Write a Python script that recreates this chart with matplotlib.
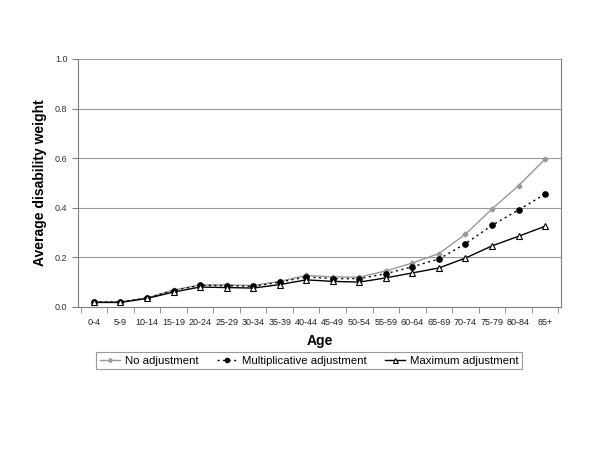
import matplotlib
matplotlib.use("Agg")
import matplotlib.pyplot as plt

plt.rcParams['font.family'] = ['Liberation Sans', 'DejaVu Sans']

ages = ["0-4", "5-9", "10-14", "15-19", "20-24", "25-29", "30-34", "35-39", "40-44",
        "45-49", "50-54", "55-59", "60-64", "65-69", "70-74", "75-79", "80-84", "85+"]
no_adj = [0.02, 0.02, 0.036, 0.068, 0.089, 0.089, 0.086, 0.103, 0.127,
          0.121, 0.120, 0.145, 0.177, 0.215, 0.293, 0.395, 0.489, 0.596]
mult_adj = [0.02, 0.02, 0.036, 0.066, 0.087, 0.086, 0.083, 0.100, 0.121,
            0.114, 0.114, 0.134, 0.162, 0.193, 0.255, 0.329, 0.391, 0.455]
max_adj = [0.018, 0.018, 0.034, 0.060, 0.080, 0.078, 0.076, 0.090, 0.109,
           0.103, 0.100, 0.117, 0.137, 0.157, 0.197, 0.246, 0.285, 0.325]

fig = plt.figure(figsize=(6, 4.5), dpi=100)
ax = fig.add_axes([0.13, 0.318, 0.805, 0.551])

x = list(range(len(ages)))
ax.plot(x, no_adj, color='#999999', lw=1.0, marker='D', ms=2.5, mfc='#999999', mec='#999999',
        label='No adjustment')
ax.plot(x, mult_adj, color='black', lw=1.0, ls=(0, (1.5, 2.5)), marker='o', ms=3.8, mfc='black',
        mec='black', label='Multiplicative adjustment')
ax.plot(x, max_adj, color='black', lw=1.0, marker='^', ms=4.5, mfc='white', mec='black',
        mew=0.8, label='Maximum adjustment')

ax.set_xlim(-0.6, len(ages) - 0.4)
ax.set_ylim(0, 1.0)
ax.set_yticks([0, 0.2, 0.4, 0.6, 0.8, 1.0])
ax.set_yticklabels(['0.0', '0.2', '0.4', '0.6', '0.8', '1.0'])
ax.set_xticks(x)
ax.set_xticklabels(ages)
ax.set_xticks([i - 0.5 for i in range(len(ages) + 1)], minor=True)
ax.tick_params(axis='x', which='major', length=0, labelsize=6.5, pad=8, labelcolor='#222222')
ax.tick_params(axis='x', which='minor', length=4, color='#808080', direction='out')
ax.tick_params(axis='y', length=4, color='#808080', labelsize=6.5, labelcolor='#333333')
ax.yaxis.grid(True, color='#999999', lw=0.8)
ax.set_axisbelow(True)
for s in ['left', 'bottom', 'right']:
    ax.spines[s].set_color('#808080')
ax.spines['top'].set_visible(False)
ax.spines['right'].set_visible(True)

ax.set_xlabel('Age', fontsize=10, fontweight='bold', labelpad=5)
ax.set_ylabel('Average disability weight', fontsize=10, fontweight='bold', labelpad=6)

leg = fig.legend(loc='center', bbox_to_anchor=(0.515, 0.198), ncol=3, fontsize=8.2,
                 frameon=True, fancybox=False, edgecolor='#808080', handlelength=1.8,
                 columnspacing=1.6, borderpad=0.3, handletextpad=0.4, markerscale=0.8)
leg.get_frame().set_linewidth(0.8)

fig.savefig('out.png', dpi=100)
